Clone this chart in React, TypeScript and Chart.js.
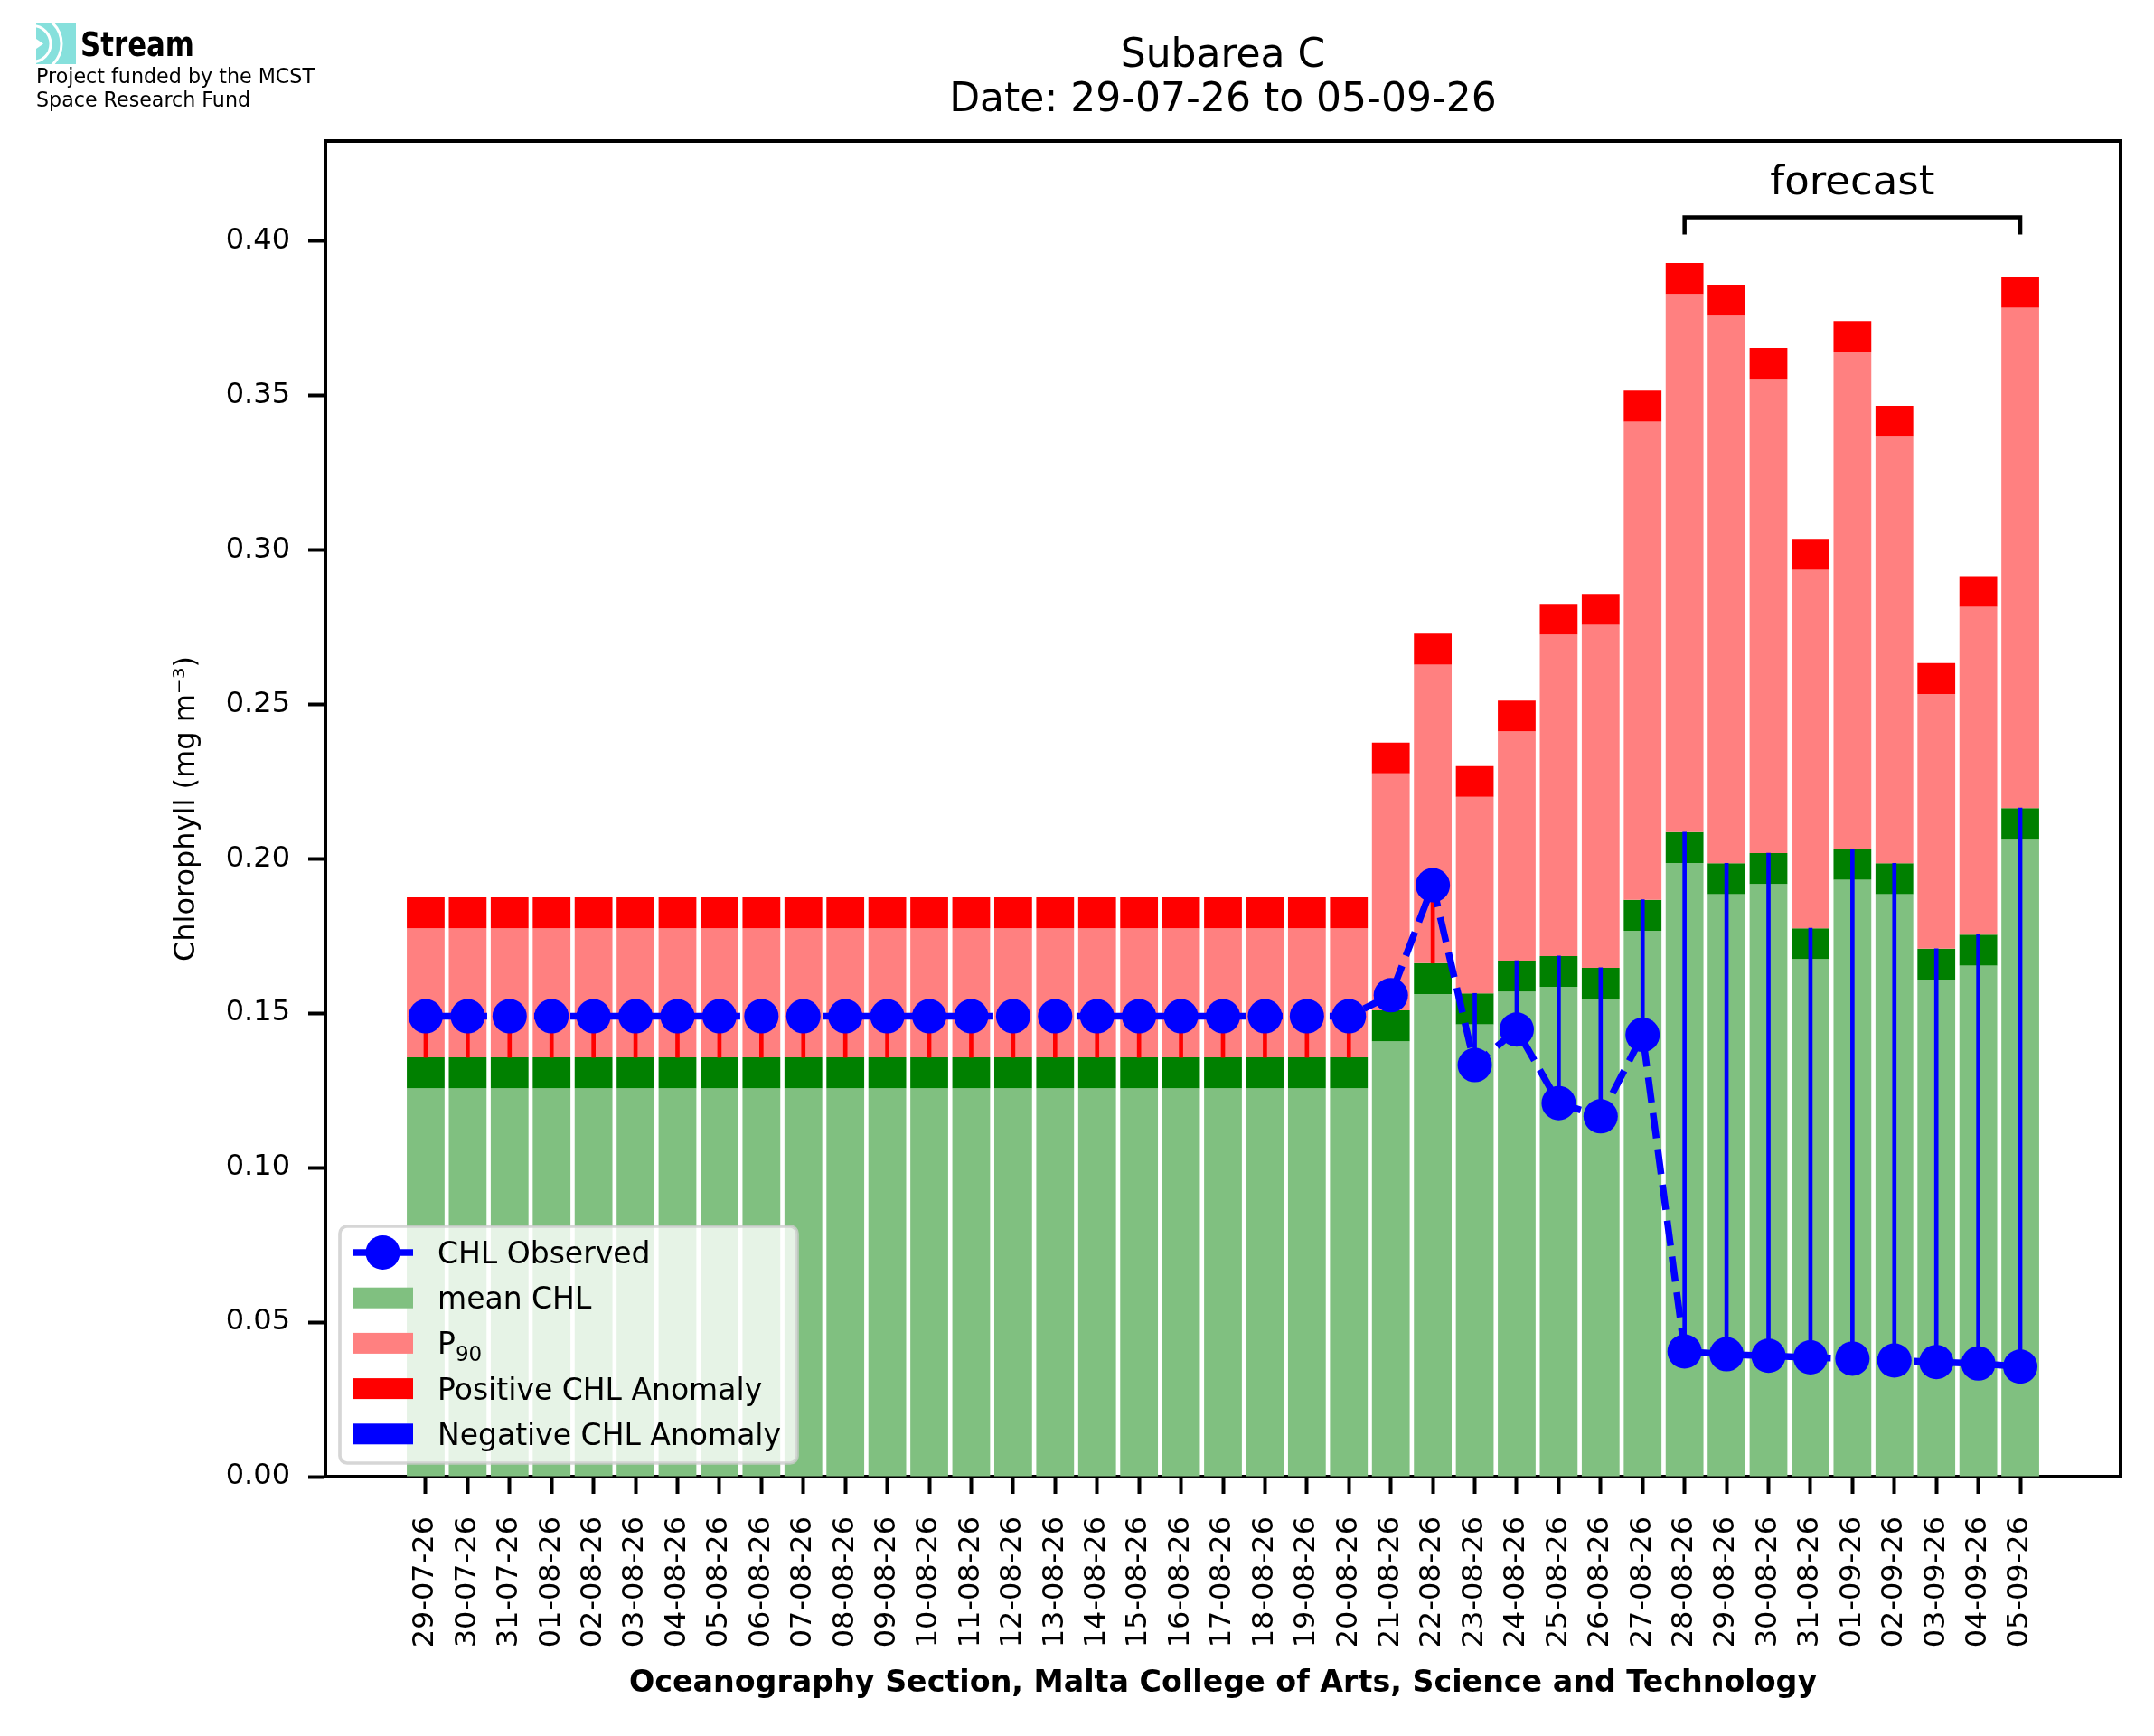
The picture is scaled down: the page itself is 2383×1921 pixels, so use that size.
import React, { useEffect, useRef } from "react";
import { Chart, registerables } from "chart.js";

Chart.register(...registerables);

const dateLabels = [
  "29-07-26", "30-07-26", "31-07-26", "01-08-26", "02-08-26", "03-08-26", "04-08-26", "05-08-26",
  "06-08-26", "07-08-26", "08-08-26", "09-08-26", "10-08-26", "11-08-26", "12-08-26", "13-08-26",
  "14-08-26", "15-08-26", "16-08-26", "17-08-26", "18-08-26", "19-08-26", "20-08-26", "21-08-26",
  "22-08-26", "23-08-26", "24-08-26", "25-08-26", "26-08-26", "27-08-26", "28-08-26", "29-08-26",
  "30-08-26", "31-08-26", "01-09-26", "02-09-26", "03-09-26", "04-09-26", "05-09-26",
];

const observedChl = [
  0.149, 0.149, 0.149, 0.149, 0.149, 0.149, 0.149, 0.149, 0.149, 0.149, 0.149, 0.149,
  0.149, 0.149, 0.149, 0.149, 0.149, 0.149, 0.149, 0.149, 0.149, 0.149, 0.149,
  0.1558, 0.1914, 0.1332, 0.1447, 0.1209, 0.1166, 0.143,
  0.0405, 0.0396, 0.0391, 0.0386, 0.0382, 0.0376, 0.0371, 0.0366, 0.0356,
];

const meanChl = [
  0.1257, 0.1257, 0.1257, 0.1257, 0.1257, 0.1257, 0.1257, 0.1257, 0.1257, 0.1257, 0.1257, 0.1257,
  0.1257, 0.1257, 0.1257, 0.1257, 0.1257, 0.1257, 0.1257, 0.1257, 0.1257, 0.1257, 0.1257,
  0.1409, 0.1562, 0.1464, 0.157, 0.1585, 0.1547, 0.1767,
  0.1986, 0.1885, 0.1918, 0.1675, 0.1932, 0.1885, 0.1609, 0.1654, 0.2064,
];

const p90Chl = [
  0.1775, 0.1775, 0.1775, 0.1775, 0.1775, 0.1775, 0.1775, 0.1775, 0.1775, 0.1775, 0.1775, 0.1775,
  0.1775, 0.1775, 0.1775, 0.1775, 0.1775, 0.1775, 0.1775, 0.1775, 0.1775, 0.1775, 0.1775,
  0.2276, 0.2628, 0.22, 0.2412, 0.2725, 0.2757, 0.3415,
  0.3828, 0.3758, 0.3553, 0.2935, 0.364, 0.3366, 0.2533, 0.2815, 0.3783,
];

const yTickValues = [0, 0.05, 0.1, 0.15, 0.2, 0.25, 0.3, 0.35, 0.4];
const capHeight = 0.01;
const forecastFrom = "28-08-26";
const forecastTo = "05-09-26";

const FONT = "'DejaVu Sans', sans-serif";
const BLUE = "#0000ff";
const RED = "#ff0000";
const LIGHT_RED = "#ff8080";
const GREEN = "#008000";
const LIGHT_GREEN = "#80c080";

const overlay = {
  id: "overlay",
  afterDraw(chart: any) {
    const { ctx, chartArea: a, scales } = chart;
    const xs = scales.x;
    const ys = scales.y;
    const cx = (a.left + a.right) / 2;
    ctx.save();

    // top and right spines
    ctx.strokeStyle = "#000";
    ctx.lineWidth = 4;
    ctx.beginPath();
    ctx.moveTo(a.left - 2, a.top);
    ctx.lineTo(a.right, a.top);
    ctx.lineTo(a.right, a.bottom + 2);
    ctx.stroke();

    // titles
    ctx.fillStyle = "#000";
    ctx.textAlign = "center";
    ctx.textBaseline = "alphabetic";
    ctx.font = `44px ${FONT}`;
    ctx.fillText("Subarea C", cx, 74);
    ctx.fillText(`Date: ${dateLabels[0]} to ${dateLabels[dateLabels.length - 1]}`, cx, 123);

    ctx.font = `bold 33.3px ${FONT}`;
    ctx.fillText("Oceanography Section, Malta College of Arts, Science and Technology", cx, 1872);

    ctx.save();
    ctx.translate(207, (a.top + a.bottom) / 2);
    ctx.rotate(-Math.PI / 2);
    ctx.font = `32px ${FONT}`;
    ctx.textBaseline = "middle";
    ctx.fillText("Chlorophyll (mg m\u207B\u00B3)", 0, 0);
    ctx.restore();

    // forecast bracket
    const x0 = xs.getPixelForValue(dateLabels.indexOf(forecastFrom));
    const x1 = xs.getPixelForValue(dateLabels.indexOf(forecastTo));
    const yb = ys.getPixelForValue(0.4076);
    const yt = ys.getPixelForValue(0.402);
    ctx.lineWidth = 4.5;
    ctx.beginPath();
    ctx.moveTo(x0, yt);
    ctx.lineTo(x0, yb);
    ctx.lineTo(x1, yb);
    ctx.lineTo(x1, yt);
    ctx.stroke();
    ctx.font = `45px ${FONT}`;
    ctx.fillText("forecast", (x0 + x1) / 2, ys.getPixelForValue(0.4149));

    // legend
    const lx = a.left + 16;
    const ly = a.bottom - 277;
    const lw = 506;
    const lh = 262;
    ctx.beginPath();
    ctx.roundRect(lx, ly, lw, lh, 8);
    ctx.fillStyle = "rgba(255,255,255,0.8)";
    ctx.fill();
    ctx.strokeStyle = "rgba(204,204,204,0.8)";
    ctx.lineWidth = 3.7;
    ctx.stroke();

    const hx = lx + 14;
    const hw = 67;
    const tx = lx + 108;
    const rowY = (r: number) => ly + 29 + r * 50.2;

    ctx.strokeStyle = BLUE;
    ctx.lineWidth = 7.5;
    ctx.beginPath();
    ctx.moveTo(hx, rowY(0));
    ctx.lineTo(hx + hw, rowY(0));
    ctx.stroke();
    ctx.fillStyle = BLUE;
    ctx.beginPath();
    ctx.arc(hx + hw / 2, rowY(0), 19, 0, Math.PI * 2);
    ctx.fill();

    const patches = [LIGHT_GREEN, LIGHT_RED, RED, BLUE];
    patches.forEach((c, i) => {
      ctx.fillStyle = c;
      ctx.fillRect(hx, rowY(i + 1) - 11.5, hw, 23);
    });

    ctx.fillStyle = "#000";
    ctx.textAlign = "left";
    ctx.font = `33px ${FONT}`;
    ctx.fillText("CHL Observed", tx, rowY(0) + 12);
    ctx.fillText("mean CHL", tx, rowY(1) + 12);
    ctx.fillText("P", tx, rowY(2) + 12);
    const pw = ctx.measureText("P").width;
    ctx.font = `23px ${FONT}`;
    ctx.fillText("90", tx + pw, rowY(2) + 20);
    ctx.font = `33px ${FONT}`;
    ctx.fillText("Positive CHL Anomaly", tx, rowY(3) + 12);
    ctx.fillText("Negative CHL Anomaly", tx, rowY(4) + 12);

    // logo
    ctx.save();
    ctx.fillStyle = "#86e0dc";
    ctx.fillRect(40, 26, 44, 45);
    ctx.strokeStyle = "#fff";
    ctx.lineWidth = 3;
    ctx.beginPath();
    ctx.arc(36, 48.5, 20, -Math.PI / 2, Math.PI / 2);
    ctx.stroke();
    ctx.beginPath();
    ctx.arc(36, 48.5, 32, -Math.PI / 2, Math.PI / 2);
    ctx.stroke();
    ctx.fillStyle = "#fff";
    ctx.beginPath();
    ctx.moveTo(40, 43);
    ctx.lineTo(48, 48.5);
    ctx.lineTo(40, 54);
    ctx.closePath();
    ctx.fill();
    ctx.restore();

    ctx.fillStyle = "#000";
    ctx.textAlign = "left";
    ctx.font = `bold 38px ${FONT}`;
    ctx.fillText("Stream", 89, 62, 126);
    ctx.font = `23px ${FONT}`;
    ctx.fillText("Project funded by the MCST", 40, 92, 308);
    ctx.fillText("Space Research Fund", 40, 118, 237);

    ctx.restore();
  },
};

const App = () => {
  const canvasRef = useRef<HTMLCanvasElement | null>(null);

  useEffect(() => {
    const ctx = canvasRef.current?.getContext("2d");
    if (!ctx) return;

    const idx = dateLabels.map((_, i) => i);
    const dgTop = meanChl.map((m) => m + capHeight);
    const posStems = idx
      .filter((i) => observedChl[i] > dgTop[i])
      .map((i) => ({ x: i, y: [dgTop[i], observedChl[i]] }));
    const negStems = idx
      .filter((i) => observedChl[i] < dgTop[i])
      .map((i) => ({ x: i, y: [observedChl[i], dgTop[i]] }));

    const barBase = {
      type: "bar" as const,
      grouped: false,
      barPercentage: 0.9,
      categoryPercentage: 1,
      borderWidth: 0,
    };

    const tickFont = { family: FONT, size: 32 };
    const grid = {
      display: true,
      offset: false,
      drawOnChartArea: false,
      drawTicks: true,
      tickLength: 19,
      tickWidth: 4,
      tickColor: "#000",
    };
    const border = { display: true, color: "#000", width: 4 };

    const chart = new Chart(ctx, {
      type: "bar",
      data: {
        datasets: [
          {
            type: "line",
            label: "CHL Observed",
            data: idx.map((i) => ({ x: i, y: observedChl[i] })),
            borderColor: BLUE,
            backgroundColor: BLUE,
            borderWidth: 7.5,
            borderDash: [28, 12],
            tension: 0,
            pointRadius: 19,
            pointBorderWidth: 0,
            pointBackgroundColor: BLUE,
          },
          { ...barBase, label: "Positive stems", data: posStems, backgroundColor: RED, barThickness: 4 },
          { ...barBase, label: "Negative CHL Anomaly", data: negStems, backgroundColor: BLUE, barThickness: 4 },
          {
            ...barBase,
            label: "Positive CHL Anomaly",
            data: idx.map((i) => ({ x: i, y: [p90Chl[i], p90Chl[i] + capHeight] })),
            backgroundColor: RED,
          },
          {
            ...barBase,
            label: "P90",
            data: idx.map((i) => ({ x: i, y: [dgTop[i], p90Chl[i]] })),
            backgroundColor: LIGHT_RED,
          },
          {
            ...barBase,
            label: "mean cap",
            data: idx.map((i) => ({ x: i, y: [meanChl[i], dgTop[i]] })),
            backgroundColor: GREEN,
          },
          {
            ...barBase,
            label: "mean CHL",
            data: idx.map((i) => ({ x: i, y: [0, meanChl[i]] })),
            backgroundColor: LIGHT_GREEN,
          },
        ] as any,
      },
      options: {
        animation: false,
        responsive: true,
        maintainAspectRatio: false,
        devicePixelRatio: 1,
        events: [],
        layout: { padding: { top: 156, right: 37, left: 0, bottom: 0 } },
        plugins: {
          legend: { display: false },
          title: { display: false },
          tooltip: { enabled: false },
        },
        scales: {
          x: {
            type: "linear",
            min: -2.39,
            max: dateLabels.length - 1 + 2.39,
            offset: false,
            afterFit: (s: any) => {
              s.height = 287;
            },
            afterBuildTicks: (s: any) => {
              s.ticks = idx.map((i) => ({ value: i }));
            },
            ticks: {
              autoSkip: false,
              minRotation: 90,
              maxRotation: 90,
              padding: 25,
              color: "#000",
              font: tickFont,
              callback: (v: any) => dateLabels[v] ?? "",
            },
            grid,
            border,
          },
          y: {
            type: "linear",
            min: 0,
            max: 0.4323,
            afterFit: (s: any) => {
              s.width = 360;
            },
            afterBuildTicks: (s: any) => {
              s.ticks = yTickValues.map((v) => ({ value: v }));
            },
            ticks: {
              padding: 20,
              color: "#000",
              font: tickFont,
              callback: (v: any) => Number(v).toFixed(2),
            },
            grid,
            border,
          },
        },
      } as any,
      plugins: [overlay],
    });

    return () => {
      chart.destroy();
    };
  }, []);

  return (
    <div style={{ position: "fixed", left: 0, top: 0, width: "2383px", height: "1921px", background: "#fff" }}>
      <canvas ref={canvasRef} />
    </div>
  );
};

export default App;
